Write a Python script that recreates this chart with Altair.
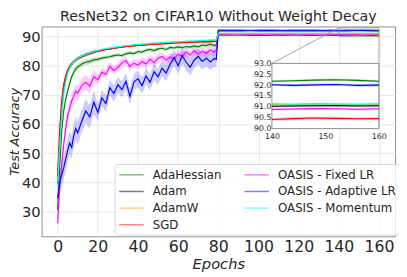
import altair as alt
import pandas as pd

# ---------------- data ----------------
epochs = [0, 1, 2, 3, 4, 5, 6, 7, 8, 9, 10,
          12, 14, 16, 18, 20, 22, 24, 26, 28, 30, 32, 34, 36, 38, 40, 42, 44,
          46, 48, 50, 52, 54, 56, 58, 60, 62, 64, 66, 68, 70, 72, 74, 76, 78,
          79,
          80, 84, 88, 92, 96, 100, 104, 108, 112, 116, 120, 124, 128, 132,
          136, 140, 144, 148, 152, 156, 160]

ada_hessian = [30.5, 45.0, 57.5, 64.5, 68.5, 71.5, 74.0, 76.3, 77.8, 78.9, 79.6,
               80.6, 81.2, 81.5, 82.0, 82.2, 82.6, 82.9, 83.1, 83.5, 83.7, 83.5, 84.1,
               84.4, 84.2, 84.9, 84.7, 85.3, 85.6, 85.2, 85.8, 86.0, 85.6, 86.3, 86.1,
               86.5, 86.2, 86.6, 86.4, 86.8, 86.5, 87.1, 86.9, 87.4, 86.9,
               87.2,
               92.22, 92.20, 92.24, 92.21, 92.19, 92.23, 92.20, 92.22, 92.18, 92.21,
               92.23, 92.20, 92.22, 92.19, 92.21, 92.18, 92.20, 92.23, 92.25, 92.22, 92.18]
adam = [39.5, 55.0, 66.0, 72.5, 76.0, 78.0, 79.5, 80.5, 81.3, 81.9, 82.4,
        83.1, 83.7, 84.2, 84.6, 85.0, 85.3, 85.6, 85.8, 86.0, 86.3, 86.4, 86.6,
        86.8, 86.9, 87.1, 87.1, 87.3, 87.4, 87.4, 87.6, 87.7, 87.7, 87.8, 87.9,
        88.0, 88.0, 88.1, 88.2, 88.2, 88.3, 88.4, 88.3, 88.5, 88.5,
        88.6,
        91.05, 91.04, 91.06, 91.03, 91.05, 91.04, 91.06, 91.05, 91.03, 91.04,
        91.06, 91.05, 91.04, 91.06, 91.02, 91.03, 91.04, 91.05, 91.06, 91.04, 91.05]
adamw = [40.5, 56.5, 67.0, 73.0, 76.3, 78.3, 79.7, 80.7, 81.4, 82.0, 82.5,
         83.2, 83.8, 84.3, 84.7, 85.1, 85.4, 85.7, 85.9, 86.1, 86.3, 86.5, 86.7,
         86.8, 87.0, 87.1, 87.2, 87.3, 87.5, 87.5, 87.6, 87.7, 87.8, 87.9, 88.0,
         88.0, 88.1, 88.2, 88.2, 88.3, 88.3, 88.4, 88.5, 88.5, 88.6,
         88.6,
         91.10, 91.12, 91.11, 91.13, 91.10, 91.12, 91.11, 91.13, 91.12, 91.10,
         91.11, 91.12, 91.13, 91.11, 91.10, 91.12, 91.11, 91.13, 91.12, 91.11, 91.12]
sgd = [42.0, 58.0, 68.0, 73.5, 76.5, 78.5, 79.8, 80.8, 81.5, 82.1, 82.6,
       83.3, 83.9, 84.3, 84.8, 85.0, 85.4, 85.6, 85.8, 86.1, 86.2, 86.5, 86.6,
       86.7, 86.8, 87.0, 87.1, 87.1, 87.3, 87.4, 87.4, 87.6, 87.6, 87.7, 87.8,
       87.8, 88.0, 87.9, 88.1, 88.1, 88.2, 88.2, 88.3, 88.2, 88.4,
       88.3,
       90.48, 90.50, 90.46, 90.47, 90.44, 90.49, 90.45, 90.47, 90.43, 90.46,
       90.48, 90.45, 90.44, 90.47, 90.45, 90.42, 90.46, 90.49, 90.47, 90.45, 90.46]
oasis_fixed = [26.0, 38.0, 46.0, 53.0, 58.5, 63.0, 65.5, 68.0, 69.5, 71.3, 70.6,
               73.2, 74.3, 73.0, 76.3, 75.2, 77.8, 77.0, 79.8, 78.3, 79.5, 81.0, 81.8,
               79.7, 80.9, 80.2, 81.5, 80.6, 82.3, 81.0, 82.6, 83.2, 81.9, 83.0, 82.4,
               84.0, 83.3, 84.8, 83.6, 85.2, 84.0, 85.0, 84.2, 85.4, 84.7,
               85.5,
               90.92, 90.90, 90.93, 90.89, 90.91, 90.90, 90.92, 90.88, 90.91, 90.93,
               90.90, 90.89, 90.92, 90.90, 90.91, 90.88, 90.90, 90.92, 90.91, 90.89, 90.91]
oasis_adaptive = [34.5, 40.0, 42.5, 45.0, 48.0, 51.0, 53.5, 52.0, 56.0, 58.5, 57.0,
                  61.0, 64.5, 62.5, 67.5, 64.0, 69.0, 67.0, 72.5, 70.5, 73.5, 71.8, 74.6,
                  69.5, 74.5, 75.5, 73.2, 76.5, 74.3, 78.0, 76.2, 79.2, 77.5, 80.5, 82.8,
                  80.0, 83.5, 81.2, 79.5, 82.0, 83.2, 81.5, 82.6, 81.3, 82.5,
                  82.2,
                  92.00, 91.98, 92.02, 91.97, 92.01, 91.99, 92.03, 91.98, 92.00, 92.02,
                  91.97, 92.00, 91.98, 92.01, 91.96, 92.02, 91.99, 92.01, 92.03, 91.99, 92.00]
oasis_momentum = [38.7, 52.0, 63.0, 70.0, 74.5, 77.3, 79.2, 80.5, 81.4, 82.0, 82.6,
                  83.4, 84.0, 84.5, 84.9, 85.3, 85.6, 85.9, 86.1, 86.3, 86.5, 86.7, 86.9,
                  87.0, 87.2, 87.3, 87.4, 87.5, 87.7, 87.8, 87.8, 87.9, 88.0, 88.1, 88.2,
                  88.3, 88.3, 88.4, 88.5, 88.5, 88.6, 88.7, 88.7, 88.8, 88.9,
                  88.9,
                  91.12, 91.14, 91.13, 91.12, 91.15, 91.13, 91.12, 91.14, 91.13, 91.15,
                  91.12, 91.13, 91.14, 91.12, 91.13, 91.14, 91.12, 91.15, 91.13, 91.12, 91.14]

# spread of the shaded band: (epochs < 20, epochs 20-79, epochs >= 80)
std_ada_hessian = [1.0, 0.7, 0.06]
std_adam = [0.6, 0.3, 0.05]
std_adamw = [0.6, 0.3, 0.05]
std_sgd = [0.6, 0.3, 0.07]
std_oasis_fixed = [2.5, 1.5, 0.06]
std_oasis_adaptive = [4.0, 2.8, 0.06]
std_oasis_momentum = [0.6, 0.3, 0.06]

names = ["AdaHessian", "Adam", "AdamW", "SGD",
         "OASIS - Fixed LR", "OASIS - Adaptive LR", "OASIS - Momentum"]
colors = ["#008000", "#000000", "#ffa500", "#ff0000",
          "#ff00ff", "#0000ff", "#00ffff"]
series = [ada_hessian, adam, adamw, sgd, oasis_fixed, oasis_adaptive, oasis_momentum]
stds = [std_ada_hessian, std_adam, std_adamw, std_sgd,
        std_oasis_fixed, std_oasis_adaptive, std_oasis_momentum]

x_ticks = [0, 20, 40, 60, 80, 100, 120, 140, 160]
y_ticks = [30, 40, 50, 60, 70, 80, 90]
inset_x = [140, 160]
inset_y = [90.0, 93.0]
inset_x_ticks = [140, 150, 160]
inset_y_ticks = [90.0, 90.5, 91.0, 91.5, 92.0, 92.5, 93.0]

# ---------------- tables ----------------
rows = []
for k, (name, vals, sd) in enumerate(zip(names, series, stds)):
    for e, v in zip(epochs, vals):
        s = sd[0] if e < 20 else (sd[1] if e < 80 else sd[2])
        rows.append({"epoch": e, "optimizer": name, "band": name, "acc": v,
                     "lo": v - s, "hi": v + s, "k": k})
df = pd.DataFrame(rows)
inset_df = df[df["epoch"] >= inset_x[0]]
box_df = pd.DataFrame({"x0": [inset_x[0]], "x1": [inset_x[1]],
                       "y0": [inset_y[0]], "y1": [inset_y[1]]})

# ---------------- layout ----------------
W, H = 361, 214.3
FONT = "DejaVu Sans"
TXT = "#262626"
EDGE = "#8c8c8c"

xs = alt.Scale(domain=[-8, 168], nice=False, zero=False)
ys = alt.Scale(domain=[21.5, 93.48], nice=False, zero=False)
cs = alt.Scale(domain=names, range=colors)                 # lines (legend)
fs = alt.Scale(domain=names[::-1], range=colors[::-1])     # bands (no legend)

x_axis = alt.Axis(values=x_ticks, title="Epochs", grid=True, ticks=False, domain=False,
                  labelFontSize=16, labelPadding=3, titleFontSize=15,
                  titleFontStyle="italic", titleFontWeight="normal", titlePadding=2,
                  labelFlush=False)
y_axis = alt.Axis(values=y_ticks, title="Test Accuracy", grid=True, ticks=False,
                  domain=False, labelFontSize=15, labelPadding=1.5, titleFontSize=13,
                  titleFontStyle="italic", titleFontWeight="normal", titlePadding=0,
                  labelFlush=False)

legend = alt.Legend(title=None, orient="none", legendX=74.5, legendY=140.5, columns=2,
                    columnPadding=19, rowPadding=4, symbolType="M-1,0H3",
                    symbolSize=156.25, symbolStrokeWidth=1.5, symbolOpacity=0.5,
                    labelFontSize=12, labelOffset=21, labelFont=FONT, labelColor=TXT,
                    padding=4, fillColor="rgba(255,255,255,0.8)", strokeColor="#d5d5d5",
                    cornerRadius=3)

X = alt.X("epoch:Q", scale=xs, axis=x_axis)

bands = alt.Chart(df).mark_area(opacity=0.2).encode(
    x=X, y=alt.Y("lo:Q", scale=ys, axis=y_axis), y2="hi:Q",
    fill=alt.Fill("band:N", scale=fs, legend=None),
    detail="band:N")

lines = alt.Chart(df).mark_line(strokeWidth=1.2).encode(
    x=X, y=alt.Y("acc:Q", scale=ys, axis=y_axis),
    color=alt.Color("optimizer:N", scale=cs, legend=legend),
    order="epoch:Q")

zoom_box = alt.Chart(box_df).mark_rect(fillOpacity=0, stroke=EDGE, strokeWidth=0.8).encode(
    x=alt.X("x0:Q", scale=xs, axis=x_axis), x2="x1:Q",
    y=alt.Y("y0:Q", scale=ys, axis=y_axis), y2="y1:Q")

# inset placement on the plot area (pixels)
IX0, IX1, IY0, IY1 = 235.2, 344.4, 37.7, 104.3

conn1 = alt.Chart(box_df).mark_rule(color=EDGE, strokeWidth=0.8).encode(
    x=alt.X("x0:Q", scale=xs, axis=x_axis), y=alt.Y("y1:Q", scale=ys, axis=y_axis),
    x2=alt.value(IX0), y2=alt.value(IY0))
conn2 = alt.Chart(box_df).mark_rule(color=EDGE, strokeWidth=0.8).encode(
    x=alt.X("x1:Q", scale=xs, axis=x_axis), y=alt.Y("y0:Q", scale=ys, axis=y_axis),
    x2=alt.value(IX1), y2=alt.value(IY1))

main = alt.layer(bands, lines, zoom_box, conn1, conn2)

ixs = alt.Scale(domain=inset_x, range=[IX0, IX1], nice=False, zero=False)
iys = alt.Scale(domain=inset_y, range=[IY1, IY0], nice=False, zero=False)
ix_axis = alt.Axis(values=inset_x_ticks, orient="bottom", offset=-(H - IY1), grid=False,
                   ticks=False, domain=False, labelFontSize=8, labelPadding=4,
                   title=None, labelFlush=False)
iy_axis = alt.Axis(values=inset_y_ticks, format=".1f", orient="left", offset=-IX0,
                   grid=False, ticks=False, domain=False, labelFontSize=8,
                   labelPadding=1, title=None, labelFlush=False)

inset_bg = alt.Chart(box_df).mark_rect(fill="white", stroke=EDGE, strokeWidth=1).encode(
    x=alt.X("x0:Q", scale=ixs, axis=ix_axis), x2="x1:Q",
    y=alt.Y("y0:Q", scale=iys, axis=iy_axis), y2="y1:Q")
inset_bands = alt.Chart(inset_df).mark_area(opacity=0.2).encode(
    x=alt.X("epoch:Q", scale=ixs, axis=ix_axis),
    y=alt.Y("lo:Q", scale=iys, axis=iy_axis), y2="hi:Q",
    fill=alt.Fill("band:N", scale=fs, legend=None),
    detail="band:N")
inset_lines = alt.Chart(inset_df).mark_line(strokeWidth=1.1).encode(
    x=alt.X("epoch:Q", scale=ixs, axis=ix_axis),
    y=alt.Y("acc:Q", scale=iys, axis=iy_axis),
    color=alt.Color("optimizer:N", scale=cs, legend=legend),
    order="epoch:Q")
inset = alt.layer(inset_bg, inset_bands, inset_lines)

chart = alt.layer(main, inset).resolve_scale(x="independent", y="independent").properties(
    width=W, height=H,
    title=alt.TitleParams("ResNet32 on CIFAR10 Without Weight Decay", fontSize=14.5,
                          font=FONT, fontWeight="normal", color=TXT, offset=2,
                          anchor="middle"),
    autosize=alt.AutoSizeParams(type="none"),
    padding={"left": 34.3, "top": 16, "right": 4, "bottom": 40},
).configure_view(stroke=EDGE, strokeWidth=1).configure_axis(
    labelFont=FONT, titleFont=FONT, labelColor=TXT, titleColor=TXT,
    gridColor="#e6e6e6", gridWidth=1)

chart.save("out.html", embed_options={"renderer": "svg", "actions": False})
